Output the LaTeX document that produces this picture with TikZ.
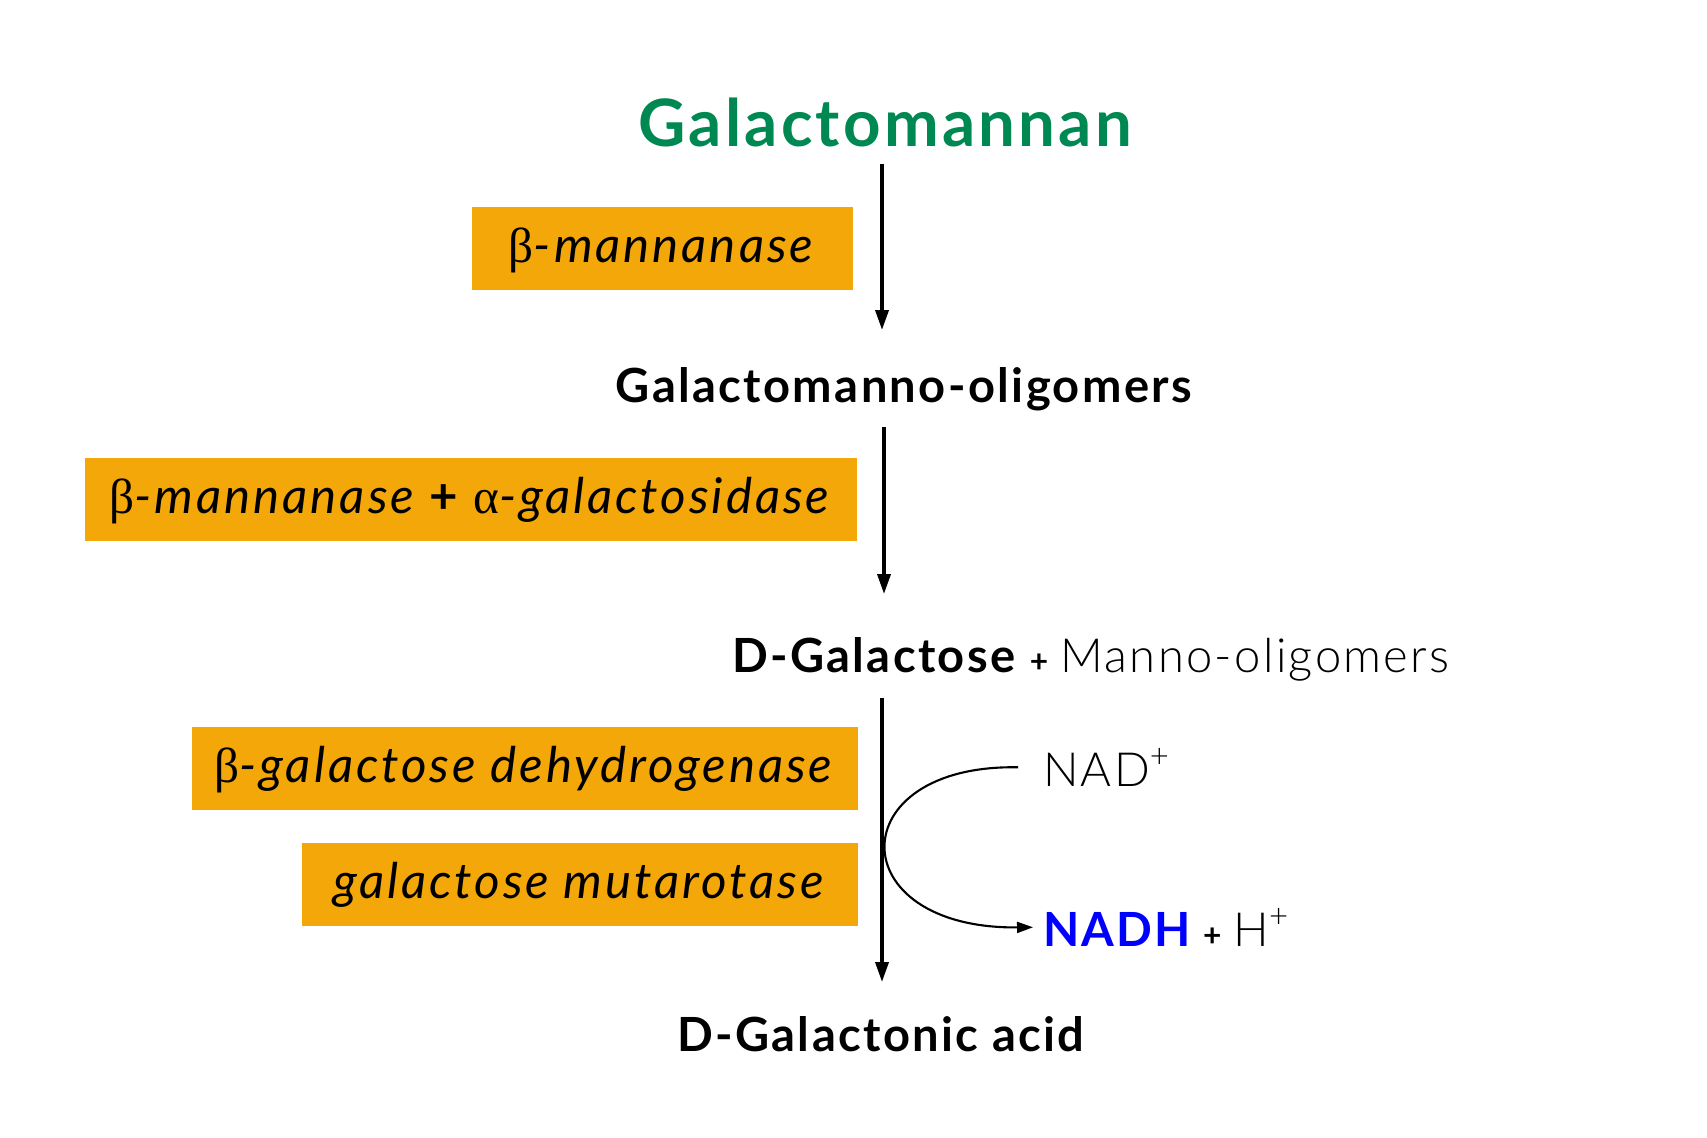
\documentclass[tikz,border=0pt]{standalone}
\usepackage{fontspec}
\setmainfont{Lato}[BoldFeatures={LetterSpace=5},ItalicFeatures={LetterSpace=6},BoldItalicFeatures={LetterSpace=5}]
\newfontfamily\lightfont{Lato Light}[LetterSpace=5]
\newfontfamily\grkfont{Liberation Serif}
\usepackage{tikz}
\usetikzlibrary{arrows.meta,positioning,calc}
\definecolor{enzorange}{RGB}{244,167,8}
\definecolor{titlegreen}{RGB}{0,136,82}
\definecolor{nadblue}{RGB}{0,0,255}
\tikzset{
  base/.style={font=\fontsize{13.4}{16}\selectfont, align=center, text=black},
  enzbox/.style={base, font=\fontsize{14}{16}\selectfont, rectangle, fill=enzorange, draw=none, minimum height=8.3mm, inner sep=0pt, text height=1em, text depth=0.2em},
  cmpd/.style={base, inner sep=1mm, outer sep=0pt},
  arr/.style={-{Triangle[length=2mm,width=1.3mm]}, line width=1pt, draw=black},
  arrthin/.style={-{Triangle[length=1.6mm,width=1.1mm]}, line width=0.6pt, draw=black},
}
\newcommand{\grk}[1]{{\grkfont #1}}

\begin{document}
\begin{tikzpicture}
  \useasboundingbox (0,0) rectangle (17.07,-11.37);
  % compounds
  \node[cmpd,anchor=base,font=\fontsize{18.6}{22}\selectfont\bfseries,text=titlegreen] (gm) at (8.85,-1.46) {Galactomannan};
  \node[cmpd,anchor=base] (gmo)  at (9.05,-4.02)  {\textbf{Galactomanno-oligomers}};
  \node[cmpd,anchor=base west] (dgal) at (7.22,-6.72) {\textbf{D-Galactose} {\small\bfseries +} {\lightfont Manno-oligomers}};
  \node[cmpd,anchor=base] (dga)  at (8.82,-10.51) {\textbf{D-Galactonic acid}};
  \node[cmpd,anchor=base west] (nad)  at (10.33,-7.86) {{\lightfont NAD\textsuperscript{+}}};
  \node[cmpd,anchor=base west] (nadh) at (10.33,-9.46) {\textbf{\color{nadblue}NADH} {\small\bfseries +} {\lightfont H\textsuperscript{+}}};
  % enzymes
  \node[enzbox,minimum width=3.81cm] (bman) at (6.625,-2.485) {\grk{β}\textit{-mannanase}};
  \node[enzbox,minimum width=7.72cm] (bmag) at (4.71,-4.99)   {\grk{β}\textit{-mannanase} \textbf{+} \grk{α}\textit{-galactosidase}};
  \node[enzbox,minimum width=6.66cm] (bgdh) at (5.25,-7.685)  {\grk{β}\textit{-galactose dehydrogenase}};
  \node[enzbox,minimum width=5.56cm] (gmut) at (5.80,-8.84)   {\textit{galactose mutarotase}};
  % reactions
  \draw[arr,shorten <=0.7mm,shorten >=2.7mm] ([xshift=-0.3mm]gm.south) -- ([xshift=-0.3mm]gm.south |- gmo.north);
  \draw[arr,shorten <=0.6mm,shorten >=3.3mm] ([xshift=-0.1mm]gm.south |- gmo.south) -- ([xshift=-0.1mm]gm.south |- dgal.north);
  \draw[arr,shorten <=0.7mm,shorten >=2.4mm] (dga.north |- dgal.south) -- (dga.north);
  \draw[arrthin] ([xshift=-1.5mm]nad.west) .. controls (8.4,-7.64) and (8.4,-9.29) .. (nadh.west);
\end{tikzpicture}
\end{document}
